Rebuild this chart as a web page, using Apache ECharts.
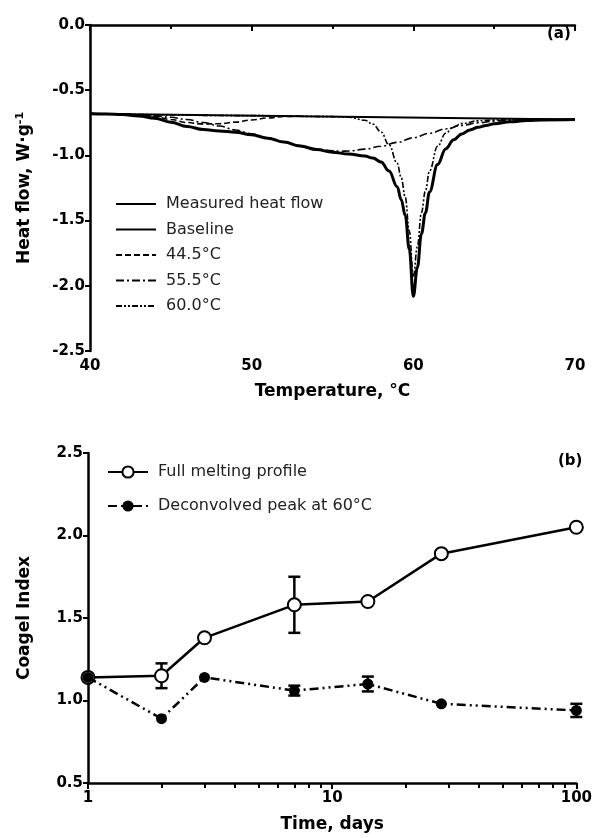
<!DOCTYPE html>
<html>
<head>
<meta charset="utf-8">
<script src="https://cdn.jsdelivr.net/npm/echarts@6/dist/echarts.min.js"></script>
<style>
html,body{margin:0;padding:0;background:#fff;}
#chart{width:595px;height:838px;}
</style>
</head>
<body>
<div id="chart"></div>
<script>
// ---------- Panel (a): DSC heat flow ----------
var measuredT = [40,41,42,43,44,45,46,47,48,49,50,51,52,53,54,55,56,57,57.5,58,58.5,59,59.25,59.5,59.75,60,60.25,60.5,60.75,61,61.5,62,62.5,63,63.5,64,64.5,65,66,67,68,70];
var measuredFlow = [-0.68,-0.682,-0.687,-0.697,-0.715,-0.745,-0.778,-0.802,-0.812,-0.822,-0.842,-0.868,-0.898,-0.928,-0.955,-0.975,-0.99,-1.005,-1.02,-1.05,-1.12,-1.24,-1.34,-1.46,-1.72,-2.08,-1.86,-1.6,-1.44,-1.28,-1.07,-0.95,-0.88,-0.835,-0.805,-0.785,-0.77,-0.757,-0.742,-0.733,-0.728,-0.725];
var baselineT = [40,70];
var baselineFlow = [-0.68,-0.725];
var peak445T = [40,42,43,44,45,46,47,48,49,50,51,52,53];
var peak445Flow = [-0.68,-0.683,-0.69,-0.703,-0.725,-0.748,-0.76,-0.757,-0.745,-0.728,-0.713,-0.702,-0.699];
var peak555T = [40,42,44,45,46,47,48,49,50,51,52,53,54,55,55.5,56,57,58,59,60,61,62,63,64,65,66,67,68,70];
var peak555Flow = [-0.68,-0.684,-0.696,-0.708,-0.725,-0.748,-0.775,-0.805,-0.835,-0.866,-0.897,-0.925,-0.95,-0.965,-0.968,-0.966,-0.952,-0.93,-0.9,-0.865,-0.83,-0.797,-0.77,-0.75,-0.737,-0.73,-0.727,-0.726,-0.725];
var peak600T = [40,50,55,56,57,57.5,58,58.5,59,59.25,59.5,59.75,60,60.25,60.5,60.75,61,61.5,62,62.5,63,64,65,67,70];
var peak600Flow = [-0.68,-0.695,-0.703,-0.707,-0.73,-0.76,-0.82,-0.92,-1.06,-1.17,-1.32,-1.58,-1.93,-1.7,-1.44,-1.27,-1.12,-0.93,-0.83,-0.78,-0.755,-0.735,-0.728,-0.725,-0.725];
var seriesNamesA = ['Measured heat flow','Baseline','44.5°C','55.5°C','60.0°C'];

// ---------- Panel (b): Coagel index ----------
var days = [1,2,3,7,14,28,100];
var fullIndex = [1.14,1.15,1.38,1.58,1.60,1.89,2.05];
var fullErr = [0,0.075,0,0.17,0,0,0];
var deconvIndex = [1.14,0.89,1.14,1.06,1.10,0.98,0.94];
var deconvErr = [0,0,0,0.03,0.045,0,0.04];
var seriesNamesB = ['Full melting profile','Deconvolved peak at 60°C'];
var majorDays = [1,10,100];
var minorDays = [2,3,4,5,6,7,8,9,20,30,40,50,60,70,80,90];

function pairs(xs, ys){ return xs.map(function(x,i){ return [x, ys[i]]; }); }
function errData(xs, ys, es){ return xs.map(function(x,i){ return [x, ys[i], es[i]]; }); }

var FONT = 'DejaVu Sans';
var AX = {color:'#000', width:2.5};

function errorRender(params, api){
  var x = api.value(0), y = api.value(1), e = api.value(2);
  if (!e) return null;
  var top = api.coord([x, y + e]);
  var bot = api.coord([x, y - e]);
  var half = 6;
  var st = {stroke:'#000', lineWidth:2.5, fill:null};
  return {type:'group', children:[
    {type:'line', shape:{x1:top[0], y1:top[1], x2:bot[0], y2:bot[1]}, style:st},
    {type:'line', shape:{x1:top[0]-half, y1:top[1], x2:top[0]+half, y2:top[1]}, style:st},
    {type:'line', shape:{x1:bot[0]-half, y1:bot[1], x2:bot[0]+half, y2:bot[1]}, style:st}
  ]};
}

var chart = echarts.init(document.getElementById('chart'), null, {renderer:'canvas'});
var option = {
  backgroundColor:'#fff',
  animation:false,
  textStyle:{fontFamily:FONT},
  title:[
    {text:'(a)', left:542, top:22, textStyle:{fontFamily:FONT, fontSize:15, fontWeight:'bold', color:'#000'}},
    {text:'(b)', left:553, top:449, textStyle:{fontFamily:FONT, fontSize:15, fontWeight:'bold', color:'#000'}}
  ],
  grid:[
    {left:90, top:25, width:485, height:326},
    {left:88, top:453, width:489, height:330}
  ],
  legend:[
    {data:seriesNamesA, orient:'vertical', left:110, top:191, itemWidth:40, itemHeight:14, itemGap:9.5,
     itemStyle:{opacity:0},
     textStyle:{fontFamily:FONT, fontSize:16, color:'#222', padding:[0,0,0,5]}},
    {data:seriesNamesB, orient:'vertical', left:102, top:459, itemWidth:40, itemHeight:14, itemGap:18,
     textStyle:{fontFamily:FONT, fontSize:16, color:'#222', padding:[0,0,0,5]}}
  ],
  xAxis:[
    {gridIndex:0, type:'value', min:40, max:70, interval:10,
     name:'Temperature, °C', nameLocation:'middle', nameGap:32,
     nameTextStyle:{fontFamily:FONT, fontSize:17, fontWeight:'bold', color:'#000'},
     axisLine:{lineStyle:AX}, axisTick:{length:6, lineStyle:{color:'#000', width:2}},
     minorTick:{show:true, splitNumber:2, length:4, lineStyle:{color:'#000', width:2}},
     splitLine:{show:false},
     axisLabel:{fontFamily:FONT, fontSize:15, fontWeight:'bold', color:'#000', margin:8}},
    {gridIndex:1, type:'log', logBase:10, min:1, max:100, position:'bottom',
     name:'Time, days', nameLocation:'middle', nameGap:33,
     nameTextStyle:{fontFamily:FONT, fontSize:17, fontWeight:'bold', color:'#000'},
     axisLine:{lineStyle:AX},
     axisTick:{length:6, lineStyle:{color:'#000', width:2}, customValues:majorDays},
     splitLine:{show:false},
     axisLabel:{fontFamily:FONT, fontSize:15, fontWeight:'bold', color:'#000', margin:8, customValues:majorDays}},
    {gridIndex:1, type:'log', logBase:10, min:1, max:100, position:'bottom', offset:0,
     axisLine:{show:false},
     axisTick:{show:true, length:5, lineStyle:{color:'#000', width:2}, customValues:minorDays},
     axisLabel:{show:false}, splitLine:{show:false}}
  ],
  yAxis:[
    {gridIndex:0, type:'value', min:-2.5, max:0, interval:0.5,
     name:'Heat flow, W·g{sup|-1}', nameLocation:'middle', nameGap:55, nameRotate:90,
     nameTextStyle:{fontFamily:FONT, fontSize:17, fontWeight:'bold', color:'#000',
       rich:{sup:{fontFamily:FONT, fontSize:11, fontWeight:'bold', color:'#000', padding:[0,0,9,0]}}},
     axisLine:{lineStyle:AX}, axisTick:{length:5, lineStyle:{color:'#000', width:2}},
     splitLine:{show:false},
     axisLabel:{fontFamily:FONT, fontSize:15, fontWeight:'bold', color:'#000', margin:5,
       formatter:function(v){ return v.toFixed(1); }}},
    {gridIndex:1, type:'value', min:0.5, max:2.5, interval:0.5,
     name:'Coagel Index', nameLocation:'middle', nameGap:55, nameRotate:90,
     nameTextStyle:{fontFamily:FONT, fontSize:17, fontWeight:'bold', color:'#000'},
     axisLine:{lineStyle:AX}, axisTick:{length:5, lineStyle:{color:'#000', width:2}},
     splitLine:{show:false},
     axisLabel:{fontFamily:FONT, fontSize:15, fontWeight:'bold', color:'#000', margin:5,
       formatter:function(v){ return v.toFixed(1); }}}
  ],
  series:[
    {name:seriesNamesA[1], type:'line', xAxisIndex:0, yAxisIndex:0, data:pairs(baselineT, baselineFlow),
     symbol:'none', lineStyle:{color:'#000', width:2}, itemStyle:{color:'#000'}, z:3},
    {name:seriesNamesA[2], type:'line', xAxisIndex:0, yAxisIndex:0, data:pairs(peak445T, peak445Flow),
     symbol:'none', smooth:0.4, smoothMonotone:'x', lineStyle:{color:'#000', width:1.6, type:[6,3]}, itemStyle:{color:'#000'}, z:3},
    {name:seriesNamesA[3], type:'line', xAxisIndex:0, yAxisIndex:0, data:pairs(peak555T, peak555Flow),
     symbol:'none', smooth:0.4, smoothMonotone:'x', lineStyle:{color:'#000', width:1.6, type:[8,3,2,3]}, itemStyle:{color:'#000'}, z:3},
    {name:seriesNamesA[4], type:'line', xAxisIndex:0, yAxisIndex:0, data:pairs(peak600T, peak600Flow),
     symbol:'none', smooth:0.4, smoothMonotone:'x', lineStyle:{color:'#000', width:1.6, type:[6,2,2,2,2,2]}, itemStyle:{color:'#000'}, z:3},
    {name:seriesNamesA[0], type:'line', xAxisIndex:0, yAxisIndex:0, data:pairs(measuredT, measuredFlow),
     symbol:'none', smooth:0.4, smoothMonotone:'x', lineStyle:{color:'#000', width:3}, itemStyle:{color:'#000'}, z:4},

    {name:'errFull', type:'custom', xAxisIndex:1, yAxisIndex:1, data:errData(days, fullIndex, fullErr),
     renderItem:errorRender, z:2, silent:true},
    {name:'errDeconv', type:'custom', xAxisIndex:1, yAxisIndex:1, data:errData(days, deconvIndex, deconvErr),
     renderItem:errorRender, z:2, silent:true},
    {name:seriesNamesB[0], type:'line', xAxisIndex:1, yAxisIndex:1, data:pairs(days, fullIndex),
     symbol:'emptyCircle', symbolSize:13, lineStyle:{color:'#000', width:2.5},
     itemStyle:{color:'#000', borderColor:'#000', borderWidth:2.5}, z:4},
    {name:seriesNamesB[1], type:'line', xAxisIndex:1, yAxisIndex:1, data:pairs(days, deconvIndex),
     symbol:'circle', symbolSize:11, lineStyle:{color:'#000', width:2.5, type:[9,4,2,4,2,4]},
     itemStyle:{color:'#000'}, z:5}
  ]
};
chart.setOption(option);
</script>
</body>
</html>
